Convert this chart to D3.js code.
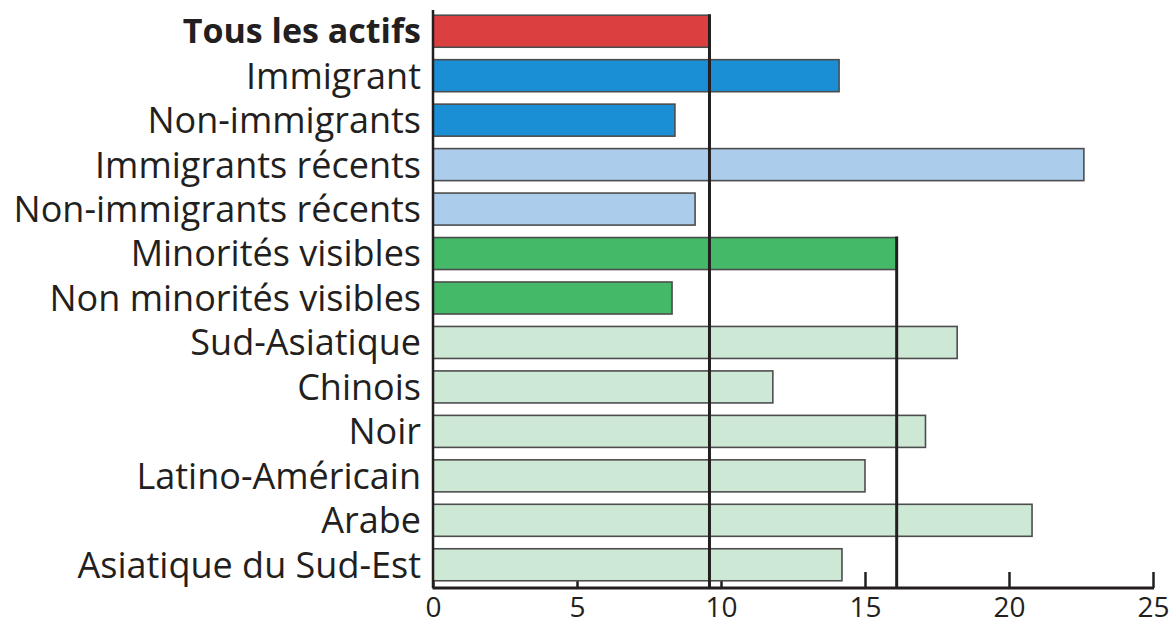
<!DOCTYPE html>
<html>
<head>
<meta charset="utf-8">
<script src="https://cdn.jsdelivr.net/npm/d3@7"></script>
<style>
  html, body { margin: 0; padding: 0; background: #fff; }
  svg { display: block; }
</style>
</head>
<body>
<svg id="chart" width="1171" height="626"></svg>
<script>
const categories = [
  "Tous les actifs", "Immigrant", "Non-immigrants", "Immigrants récents",
  "Non-immigrants récents", "Minorités visibles", "Non minorités visibles",
  "Sud-Asiatique", "Chinois", "Noir", "Latino-Américain", "Arabe",
  "Asiatique du Sud-Est"
];
const values = [9.6, 14.1, 8.4, 22.6, 9.1, 16.1, 8.3, 18.2, 11.8, 17.1, 15.0, 20.8, 14.2];
const groups = ["total", "imm", "imm", "rec", "rec", "vm", "vm", "sub", "sub", "sub", "sub", "sub", "sub"];
const groupNames = ["total", "imm", "rec", "vm", "sub"];
const groupColors = ["#dc3f40", "#1a8fd5", "#abcdeb", "#44b967", "#cde8d5"];
const xTicks = [0, 5, 10, 15, 20, 25];
const refCategories = ["Tous les actifs", "Minorités visibles"];
const refValues = [9.6, 16.1];

const svg = d3.select("#chart");
const left = 433, right = 1153, axisY = 588;

const x = d3.scaleLinear().domain([0, 25]).range([left, right]);
const y = d3.scaleBand().domain(categories).range([9, 587]).paddingInner(0.28).paddingOuter(0.14);
const color = d3.scaleOrdinal().domain(groupNames).range(groupColors);

// x axis with inward ticks
const xAxis = d3.axisBottom(x).tickValues(xTicks).tickSizeInner(-16).tickSizeOuter(0).tickPadding(0);
const gx = svg.append("g").attr("transform", `translate(0,${axisY})`).call(xAxis);
gx.select(".domain").remove();
gx.selectAll(".tick line").attr("stroke", "#231f20").attr("stroke-width", 2.5);
gx.selectAll(".tick text")
  .attr("y", 29).attr("dy", 0)
  .attr("fill", "#231f20")
  .style("font-family", "'Open Sans', sans-serif")
  .style("font-size", "28px");

// bars
svg.append("g").selectAll("rect").data(categories).join("rect")
  .attr("x", x(0))
  .attr("y", d => y(d))
  .attr("width", (d, i) => x(values[i]) - x(0))
  .attr("height", y.bandwidth())
  .attr("fill", (d, i) => color(groups[i]))
  .attr("stroke", "#4d4d4d")
  .attr("stroke-width", 1.6);

// axis lines
svg.append("line").attr("x1", left - 0.5).attr("x2", right + 1).attr("y1", axisY).attr("y2", axisY)
  .attr("stroke", "#231f20").attr("stroke-width", 3);
svg.append("line").attr("x1", left).attr("x2", left).attr("y1", 10).attr("y2", axisY)
  .attr("stroke", "#231f20").attr("stroke-width", 2.5);

// reference lines
svg.append("g").selectAll("line").data(refValues).join("line")
  .attr("x1", d => x(d)).attr("x2", d => x(d))
  .attr("y1", (d, i) => y(refCategories[i]) - 1)
  .attr("y2", axisY)
  .attr("stroke", "#231f20").attr("stroke-width", 3);

// category labels
svg.append("g").selectAll("text").data(categories).join("text")
  .attr("x", left - 12)
  .attr("y", d => y(d) + y.bandwidth() / 2)
  .attr("dy", "0.36em")
  .attr("text-anchor", "end")
  .attr("fill", "#231f20")
  .style("font-family", "'Open Sans', sans-serif")
  .style("font-size", (d, i) => i === 0 ? "34px" : "36px")
  .style("font-weight", (d, i) => i === 0 ? "700" : "400")
  .text(d => d);
</script>
</body>
</html>
